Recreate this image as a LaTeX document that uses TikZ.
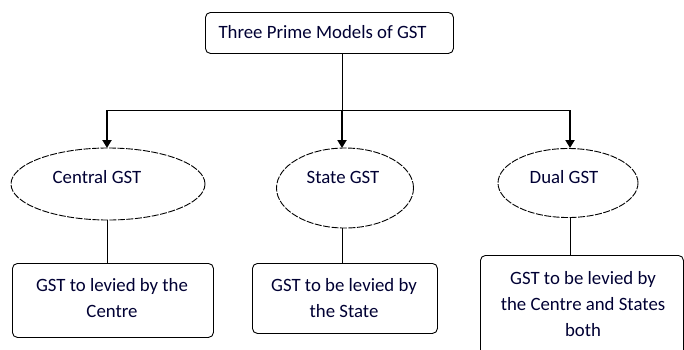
\documentclass[tikz,border=0pt]{standalone}
\usepackage{fontspec}
\setmainfont{Carlito}
\usetikzlibrary{shapes.geometric,arrows.meta}
\begin{document}
\begin{tikzpicture}[x=1pt,y=-1pt,
  rbox/.style={draw,rounded corners=5pt,line width=0.9pt,inner sep=0pt,anchor=north west},
  oval/.style={draw,ellipse,dashed,dash pattern=on 7pt off 1.5pt,line width=0.9pt,inner sep=0pt},
  lbl/.style={font=\fontsize{18.8}{26}\selectfont,align=center,text=black!80!blue},
  conn/.style={line width=0.9pt},
  arr/.style={line width=2pt,-{Triangle[length=8pt,width=9pt]}}]
\useasboundingbox (0,0) rectangle (684,349);
% top box
\node[rbox,minimum width=248pt,minimum height=41pt] (top) at (205,12) {};
\node[lbl,anchor=west] (toptext) at (215,32) {Three Prime Models of GST};
% ellipses
\node[oval,minimum width=194pt,minimum height=72pt] (e1) at (108,184) {};
\node[oval,minimum width=137pt,minimum height=80pt] (e2) at (345,188) {};
\node[oval,minimum width=140pt,minimum height=69pt] (e3) at (568,183) {};
\node[lbl] (t1) at (97,177) {Central GST};
\node[lbl] (t2) at (343,177) {State GST};
\node[lbl] (t3) at (564,177) {Dual GST};
% bottom boxes
\node[rbox,minimum width=201pt,minimum height=74pt] (b1) at (12,263) {};
\node[rbox,minimum width=185pt,minimum height=70pt] (b2) at (252,263) {};
\node[rbox,minimum width=203pt,minimum height=100pt] (b3) at (480,255) {};
\node[lbl] (bt1) at (112,298) {GST to levied by the\\Centre};
\node[lbl] (bt2) at (344,298) {GST to be levied by\\the State};
\node[lbl] (bt3) at (583,304) {GST to be levied by\\the Centre and States\\both};
% connectors
\coordinate (j) at (342,110);
\coordinate (jl) at (107,110);
\coordinate (jr) at (570,110);
\draw[conn] (top.south -| j) -- (j);
\draw[conn] (jl) -- (jr);
\draw[arr] (jl) -- (107,148);
\draw[arr] (j) -- (342,148);
\draw[arr] (jr) -- (570,148);
\draw[conn] (e1.south -| jl) -- (b1.north -| jl);
\draw[conn] (e2.south -| j) -- (b2.north -| j);
\draw[conn] (e3.south -| jr) -- (b3.north -| jr);
\end{tikzpicture}
\end{document}
